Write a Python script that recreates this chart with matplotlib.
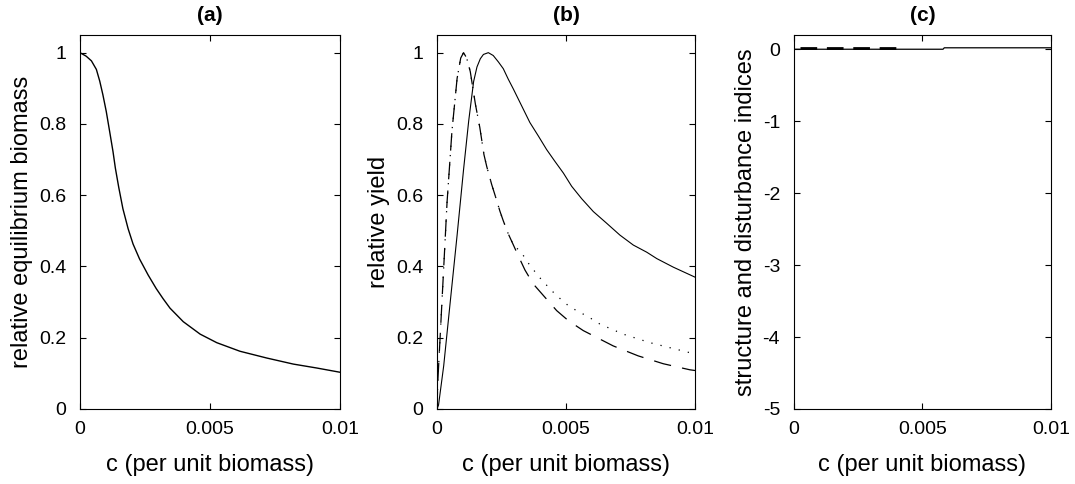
import numpy as np
import matplotlib
matplotlib.use("Agg")
import matplotlib.pyplot as plt

plt.rcParams['font.family'] = ['Liberation Sans', 'DejaVu Sans']

# ---- data (c in units of 1e-3) ----
# (a) relative equilibrium biomass
c_a = [0, 0.24, 0.44, 0.63, 0.76, 0.88, 1.01, 1.14, 1.27, 1.36, 1.49, 1.65, 1.85,
       2.04, 2.29, 2.62, 2.93, 3.19, 3.46, 3.97, 4.62, 5.26, 6.15, 7.18, 8.2, 9.1, 10]
biomass = [1.0, 0.99, 0.977, 0.953, 0.92, 0.882, 0.835, 0.779, 0.722, 0.676, 0.622,
           0.562, 0.506, 0.463, 0.421, 0.376, 0.338, 0.31, 0.283, 0.245, 0.21, 0.186,
           0.162, 0.143, 0.126, 0.115, 0.103]

# (b) relative yield
c_b_solid = [0, 0.06, 0.26, 0.52, 0.78, 1.03, 1.23, 1.42, 1.55, 1.68, 1.8, 1.99, 2.18,
             2.38, 2.57, 2.76, 2.96, 3.28, 3.6, 3.93, 4.25, 4.57, 4.9, 5.22, 5.61,
             6.06, 6.58, 7.09, 7.61, 8.13, 8.52, 9.16, 10]
yield_solid = [0, 0.011, 0.121, 0.305, 0.488, 0.672, 0.809, 0.919, 0.96, 0.983, 0.995,
               1.0, 0.992, 0.974, 0.955, 0.926, 0.898, 0.851, 0.804, 0.766, 0.728,
               0.695, 0.662, 0.625, 0.59, 0.554, 0.521, 0.488, 0.46, 0.44, 0.422,
               0.398, 0.37]

# dashed and dotted curves coincide up to c ~ 0.003
c_b_early = [0, 0.03, 0.13, 0.26, 0.39, 0.58, 0.78, 0.92, 1.03, 1.15, 1.29, 1.49, 1.66,
             1.82, 1.93, 2.12, 2.25, 2.44, 2.57, 2.76, 2.95]
yield_early = [0, 0.075, 0.213, 0.396, 0.58, 0.78, 0.928, 0.985, 1.0, 0.985, 0.947,
               0.855, 0.79, 0.714, 0.68, 0.63, 0.60, 0.555, 0.528, 0.492, 0.462]

c_b_dashed = [3.15, 3.41, 3.73, 4.19, 4.64, 5.09, 5.67, 6.83, 7.8, 8.77, 9.8, 10]
yield_dashed = [0.43, 0.39, 0.351, 0.313, 0.276, 0.248, 0.22, 0.177, 0.149, 0.127,
                0.11, 0.108]

c_b_dotted = [3.28, 3.6, 3.99, 4.38, 4.64, 5.09, 5.41, 5.86, 6.32, 7.22, 8.26, 9.8, 10]
yield_dotted = [0.438, 0.403, 0.368, 0.337, 0.318, 0.29, 0.276, 0.259, 0.238, 0.21,
                0.186, 0.158, 0.155]

# (c) structure and disturbance indices
c_c_solid = [0, 5.8, 5.85, 10]
index_solid = [0.0, 0.0, 0.02, 0.02]
c_c_dashed = [0.25, 4.1]
index_dashed = [0.012, 0.012]

xticks = [0, 0.005, 0.01]
xticklabels = ['0', '0.005', '0.01']

fig = plt.figure(figsize=(10.75, 4.84), dpi=100)

bottom, height = 0.155, 0.773
ax_a = fig.add_axes([0.0744, bottom, 0.242, height])
ax_b = fig.add_axes([0.4065, bottom, 0.240, height])
ax_c = fig.add_axes([0.7386, bottom, 0.239, height])

k = 1e-3
ax_a.plot(np.array(c_a) * k, biomass, color='black', lw=1.0)

ax_b.plot(np.array(c_b_solid) * k, yield_solid, color='black', lw=0.8)
ax_b.plot(np.array(c_b_early + c_b_dashed) * k, yield_early + yield_dashed,
          color='black', lw=0.9, linestyle=(0, (14, 9)))
ax_b.plot(np.array(c_b_early + c_b_dotted) * k, yield_early + yield_dotted,
          color='black', lw=0.9, linestyle=(0, (1, 6.5)))

ax_c.plot(np.array(c_c_solid) * k, index_solid, color='black', lw=0.9)
ax_c.plot(np.array(c_c_dashed) * k, index_dashed, color='black', lw=2.0,
          linestyle=(0, (6, 3.5)))

titles = ['(a)', '(b)', '(c)']
ylabels = ['relative equilibrium biomass', 'relative yield',
           'structure and disturbance indices']
for ax, t, yl in zip([ax_a, ax_b, ax_c], titles, ylabels):
    ax.set_xlim(0, 0.01)
    ax.set_xticks(xticks)
    ax.set_xticklabels(xticklabels)
    ax.set_title(t, fontsize=15, fontweight='bold', pad=10)
    ax.set_xlabel('c (per unit biomass)', fontsize=17, labelpad=11)
    ax.set_ylabel(yl, fontsize=17, labelpad=4)
    ax.tick_params(direction='in', top=True, right=True, length=4, width=0.8,
                   labelsize=14)
    ax.tick_params(axis='x', pad=9)
    ax.tick_params(axis='y', pad=10)
    for s in ax.spines.values():
        s.set_linewidth(0.8)

for ax in [ax_a, ax_b]:
    ax.set_ylim(0, 1.05)
    ax.set_yticks([0, 0.2, 0.4, 0.6, 0.8, 1])
    ax.set_yticklabels(['0', '0.2', '0.4', '0.6', '0.8', '1'])

ax_c.set_ylim(-5, 0.2)
ax_c.set_yticks([-5, -4, -3, -2, -1, 0])
ax_c.set_yticklabels(['-5', '-4', '-3', '-2', '-1', '0'])

fig.savefig('out.png', dpi=100)
